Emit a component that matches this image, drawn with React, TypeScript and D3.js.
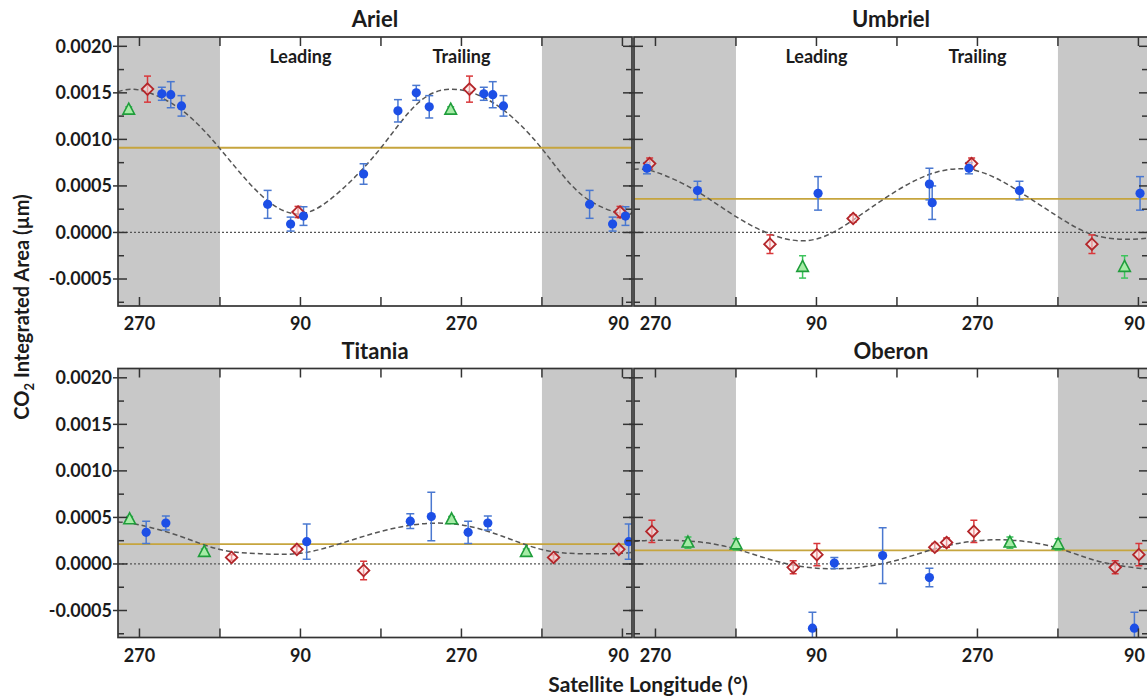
import React from "react";
import * as d3 from "d3";

type Pt = [number, number, number]; // [longitude (deg), CO2 band area (µm), error]

// ---------- axes ----------
const xDomain: [number, number] = [246, 820.7]; // extended longitude (repeats after 360)
const yDomain: [number, number] = [-0.00079, 0.0021];
const xTickValues = [270, 360, 450, 540, 630, 720, 810];
const xTickLabels = ["270", "", "90", "", "270", "", "90"];
const yMajorTicks = [-0.0005, 0, 0.0005, 0.001, 0.0015, 0.002];
const yMinorTicks = [-0.00075, -0.00025, 0.00025, 0.00075, 0.00125, 0.00175];
const shadeStarts = [246, 720];
const shadeEnds = [360, 820.7];
const hemisphereLabels = ["Leading", "Trailing"];
const hemisphereCenters = [450, 630];

// ---------- fitted curve samples (extended longitude) ----------
const fitLon = [246, 270, 315, 360, 405, 450, 495, 540, 585, 630, 675, 720, 765, 810, 820.7];
const arielFit = [0.00151, 0.00153, 0.00133, 0.0009, 0.00041, 0.0002, 0.00045, 0.00091, 0.00142, 0.00153, 0.00133, 0.0009, 0.0004, 0.0002, 0.00022];
const umbrielFit = [0.00068, 0.00065, 0.00045, 0.00017, -0.00004, -0.00007, 0.00016, 0.00045, 0.00065, 0.00066, 0.00045, 0.00017, -0.00004, -0.00007, -0.00005];
const titaniaFit = [0.00045, 0.00042, 0.0003, 0.000155, 0.00011, 0.000115, 0.00022, 0.00035, 0.00043, 0.00042, 0.0003, 0.000155, 0.00011, 0.000115, 0.00013];
const oberonFit = [0.00024, 0.000255, 0.00024, 0.00016, 0.00003, -0.000045, -0.00004, 0.00004, 0.00017, 0.00025, 0.00025, 0.00017, 0.00003, -0.000045, -0.00005];

// ---------- mean (gold) lines ----------
const arielMean = 0.00091;
const umbrielMean = 0.00036;
const titaniaMean = 0.000214;
const oberonMean = 0.000147;

// ---------- data ----------
const arielBlue: Pt[] = [
  [53.3, 0.000302, 0.00015], [79, 0.00009, 0.000075], [93.4, 0.000176, 0.0001],
  [160.6, 0.000628, 0.00011], [199, 0.001307, 0.00012], [219.5, 0.0015, 0.00008],
  [234, 0.00135, 0.00012], [295, 0.00149, 0.00007], [305, 0.00148, 0.00014], [317, 0.00136, 0.00011],
];
const arielRed: Pt[] = [[87.3, 0.00022, 0.00006], [279, 0.00154, 0.00014]];
const arielGreen: Pt[] = [[258, 0.00132, 0.00003]];

const umbrielBlue: Pt[] = [
  [91.8, 0.00042, 0.00018], [216.3, 0.00052, 0.00017], [219.4, 0.00032, 0.00018],
  [260.5, 0.00069, 0.00006], [317, 0.00045, 0.0001],
];
const umbrielRed: Pt[] = [[38, -0.000126, 0.0001], [131, 0.00015, 0.00004], [263.5, 0.00074, 0.00006]];
const umbrielGreen: Pt[] = [[74.5, -0.00037, 0.00012]];

const titaniaBlue: Pt[] = [
  [97, 0.00024, 0.00019], [212.8, 0.00046, 0.00008], [236.3, 0.00051, 0.00026],
  [277.5, 0.00034, 0.00012], [299.5, 0.00044, 0.000075],
];
const titaniaRed: Pt[] = [[13, 0.00007, 0.00003], [86, 0.000157, 0.00003], [160.6, -0.00007, 0.0001]];
const titaniaGreen: Pt[] = [[259, 0.00048, 0.00003], [342.5, 0.00013, 0.00003]];

const oberonBlue: Pt[] = [
  [85.5, -0.00069, 0.00017], [110, 0.00001, 0.00006], [164, 0.00009, 0.0003], [216.3, -0.000146, 0.0001],
];
const oberonRed: Pt[] = [
  [64, -0.000036, 0.00007], [90.5, 0.0001, 0.00012], [222.3, 0.00018, 0.00004],
  [235.5, 0.00023, 0.00005], [266, 0.00035, 0.00012],
];
const oberonGreen: Pt[] = [[306.3, 0.00023, 0.00006], [0.2, 0.00021, 0.00006]];

// ---------- styling ----------
const FONT = "Lato, 'Open Sans', sans-serif";
const TEXT = "#1b1b1b";
const AXIS = "#333333";
const fmt = d3.formatLocale({ decimal: ".", thousands: ",", grouping: [3], currency: ["", ""], minus: "-" }).format(".4f");

const PW = 514;
const PH = 269;

interface PanelProps {
  name: string;
  left: number;
  top: number;
  blue: Pt[];
  red: Pt[];
  green: Pt[];
  mean: number;
  fit: number[];
  yLabels: boolean;
  hemi: boolean;
}

function expand(pts: Pt[]) {
  const out: { lon: number; v: number; e: number }[] = [];
  pts.forEach(([lon, v, e]) => {
    [0, 360, 720].forEach((k) => {
      const L = lon + k;
      if (L >= xDomain[0] && L <= xDomain[1]) out.push({ lon: L, v, e });
    });
  });
  return out;
}

function ErrBar({ cx, y1, y2, color, cap }: { cx: number; y1: number; y2: number; color: string; cap: number }) {
  return (
    <g stroke={color} strokeWidth={1.5} fill="none">
      <line x1={cx} x2={cx} y1={y1} y2={y2} />
      <line x1={cx - cap} x2={cx + cap} y1={y1} y2={y1} />
      <line x1={cx - cap} x2={cx + cap} y1={y2} y2={y2} />
    </g>
  );
}

function Panel(p: PanelProps) {
  const x = d3.scaleLinear().domain(xDomain).range([0, PW]);
  const y = d3.scaleLinear().domain(yDomain).range([PH, 0]);
  const clipId = `clip-${p.name}`;
  const fitLine = d3
    .line<number>()
    .x((_, i) => x(fitLon[i]))
    .y((d) => y(d))
    .curve(d3.curveNatural);

  const blue = expand(p.blue);
  const red = expand(p.red);
  const green = expand(p.green);
  const lastTick = xTickValues.length - 1;

  return (
    <g transform={`translate(${p.left},${p.top})`}>
      <defs>
        <clipPath id={clipId}>
          <rect x={0} y={0} width={PW} height={PH} />
        </clipPath>
      </defs>
      <rect x={0} y={0} width={PW} height={PH} fill="#ffffff" />
      <g clipPath={`url(#${clipId})`}>
        {shadeStarts.map((s, i) => (
          <rect key={i} x={x(s)} y={0} width={x(shadeEnds[i]) - x(s)} height={PH} fill="#c8c8c8" />
        ))}
        <line x1={0} x2={PW} y1={y(0)} y2={y(0)} stroke="#555" strokeWidth={1.2} strokeDasharray="2,2" />
        <line x1={0} x2={PW} y1={y(p.mean)} y2={y(p.mean)} stroke="#c6a53e" strokeWidth={1.8} />
        <path d={fitLine(p.fit) || ""} fill="none" stroke="#555" strokeWidth={1.5} strokeDasharray="5,3" />
        {green.map((d, i) => (
          <ErrBar key={`ge${i}`} cx={x(d.lon)} y1={y(d.v + d.e)} y2={y(d.v - d.e)} color="#3cc45c" cap={3.5} />
        ))}
        {red.map((d, i) => (
          <ErrBar key={`re${i}`} cx={x(d.lon)} y1={y(d.v + d.e)} y2={y(d.v - d.e)} color="#d9373a" cap={3.5} />
        ))}
        {blue.map((d, i) => (
          <ErrBar key={`be${i}`} cx={x(d.lon)} y1={y(d.v + d.e)} y2={y(d.v - d.e)} color="#4a78d0" cap={4} />
        ))}
        {green.map((d, i) => (
          <path
            key={`g${i}`}
            transform={`translate(${x(d.lon)},${y(d.v)})`}
            d="M0,-6.5L5.8,4.5L-5.8,4.5Z"
            fill="#a6eca6"
            stroke="#1f9d3b"
            strokeWidth={1.6}
          />
        ))}
        {red.map((d, i) => (
          <path
            key={`r${i}`}
            transform={`translate(${x(d.lon)},${y(d.v)})`}
            d="M0,-5.8L5.8,0L0,5.8L-5.8,0Z"
            fill="rgba(255,225,225,0.55)"
            stroke="#b3262a"
            strokeWidth={1.8}
          />
        ))}
        {blue.map((d, i) => (
          <circle key={`b${i}`} cx={x(d.lon)} cy={y(d.v)} r={4.6} fill="#1d4fe6" />
        ))}
      </g>
      {/* frame */}
      <rect x={0} y={0} width={PW} height={PH} fill="none" stroke={AXIS} strokeWidth={1.7} />
      {/* y ticks */}
      {yMajorTicks.map((t, i) => (
        <g key={`ym${i}`} stroke={AXIS} strokeWidth={1.5}>
          <line x1={-5} x2={9} y1={y(t)} y2={y(t)} />
          <line x1={PW - 9} x2={PW} y1={y(t)} y2={y(t)} />
        </g>
      ))}
      {yMinorTicks.map((t, i) => (
        <g key={`yn${i}`} stroke={AXIS} strokeWidth={1.5}>
          <line x1={0} x2={6} y1={y(t)} y2={y(t)} />
          <line x1={PW - 6} x2={PW} y1={y(t)} y2={y(t)} />
        </g>
      ))}
      {/* x ticks */}
      {xTickValues.map((t, i) => (
        <g key={`xt${i}`} stroke={AXIS} strokeWidth={1.5}>
          <line x1={x(t)} x2={x(t)} y1={0} y2={9} />
          <line x1={x(t)} x2={x(t)} y1={PH} y2={PH - 9} />
        </g>
      ))}
      {xTickValues.map((t, i) =>
        xTickLabels[i] ? (
          <text
            key={`xl${i}`}
            x={x(t)}
            dx={i === lastTick ? -4 : 0}
            y={PH + 24}
            textAnchor="middle"
            fontFamily={FONT}
            fontWeight={700}
            fontSize={18}
            fill={TEXT}
          >
            {xTickLabels[i]}
          </text>
        ) : null
      )}
      {p.yLabels &&
        yMajorTicks.map((t, i) => (
          <text
            key={`yl${i}`}
            x={-6}
            y={y(t)}
            dy="0.36em"
            textAnchor="end"
            fontFamily={FONT}
            fontWeight={700}
            fontSize={18}
            fill={TEXT}
          >
            {fmt(t)}
          </text>
        ))}
      <text x={PW / 2} y={-10} textAnchor="middle" fontFamily={FONT} fontWeight={700} fontSize={22} fill={TEXT}>
        {p.name}
      </text>
      {p.hemi &&
        hemisphereLabels.map((h, i) => (
          <text
            key={`h${i}`}
            x={x(hemisphereCenters[i])}
            y={26}
            textAnchor="middle"
            fontFamily={FONT}
            fontWeight={700}
            fontSize={18}
            fill={TEXT}
          >
            {h}
          </text>
        ))}
    </g>
  );
}

export default function App() {
  return (
    <div style={{ position: "absolute", left: 0, top: 0, width: 1147, height: 696, overflow: "hidden", background: "#fff" }}>
      <svg width={1147} height={696} style={{ display: "block" }}>
        <rect x={0} y={0} width={1147} height={696} fill="#fff" />
        <Panel name="Ariel" left={118} top={37} blue={arielBlue} red={arielRed} green={arielGreen} mean={arielMean} fit={arielFit} yLabels hemi />
        <Panel name="Umbriel" left={634} top={37} blue={umbrielBlue} red={umbrielRed} green={umbrielGreen} mean={umbrielMean} fit={umbrielFit} yLabels={false} hemi />
        <Panel name="Titania" left={118} top={368.5} blue={titaniaBlue} red={titaniaRed} green={titaniaGreen} mean={titaniaMean} fit={titaniaFit} yLabels hemi={false} />
        <Panel name="Oberon" left={634} top={368.5} blue={oberonBlue} red={oberonRed} green={oberonGreen} mean={oberonMean} fit={oberonFit} yLabels={false} hemi={false} />
        <text
          transform="translate(29,307) rotate(-90)"
          textAnchor="middle"
          fontFamily={FONT}
          fontWeight={700}
          fontSize={20}
          fill={TEXT}
        >
          CO
          <tspan fontSize={13} dy={5}>2</tspan>
          <tspan dy={-5}> Integrated Area (µm)</tspan>
        </text>
        <text x={648} y={692} textAnchor="middle" fontFamily={FONT} fontWeight={700} fontSize={21} fill={TEXT}>
          Satellite Longitude (°)
        </text>
      </svg>
    </div>
  );
}
